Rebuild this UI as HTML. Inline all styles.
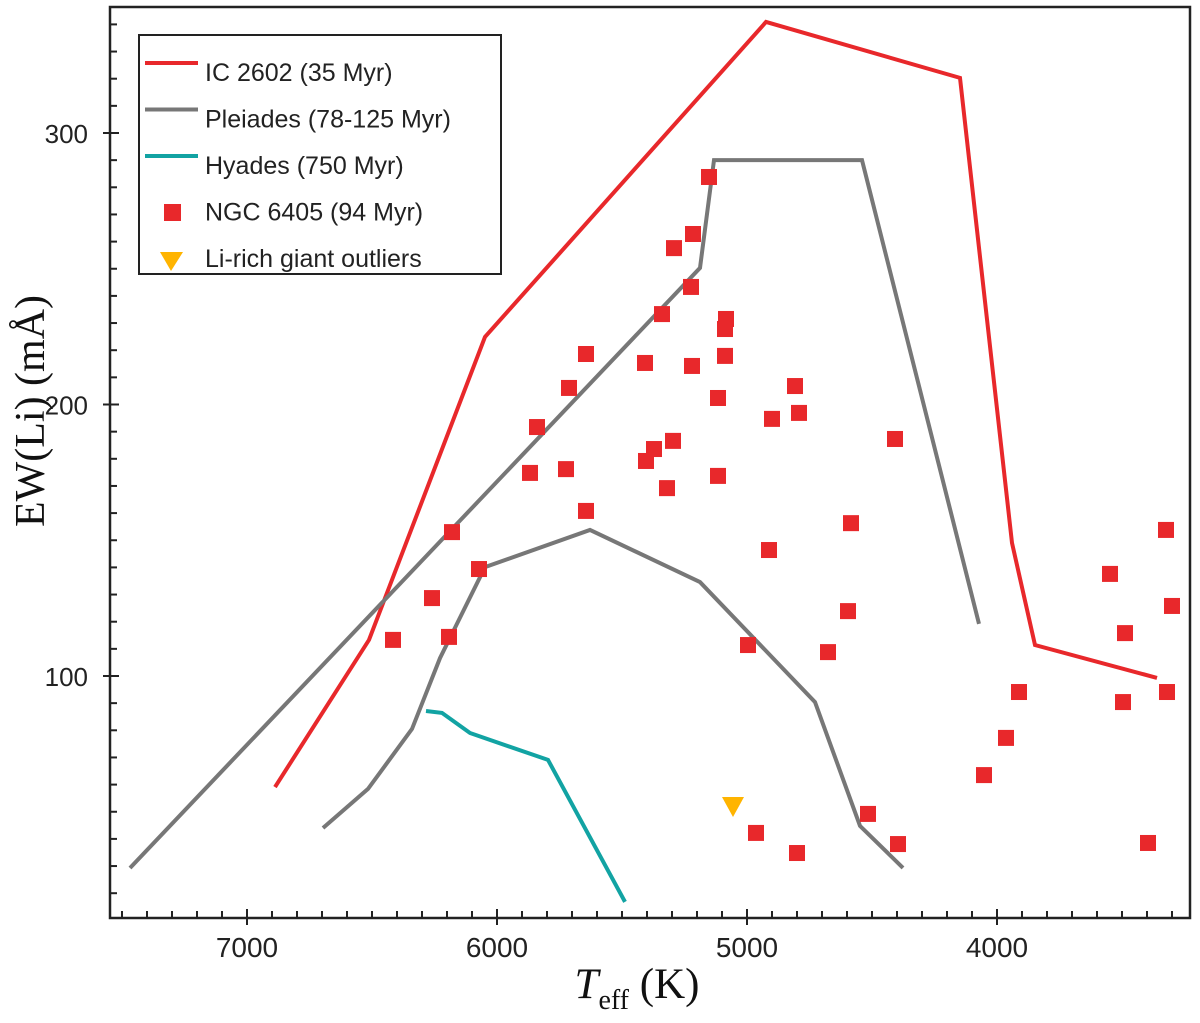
<!DOCTYPE html>
<html><head><meta charset="utf-8"><style>
body{margin:0;background:#fff}
svg text{font-family:"Liberation Sans",sans-serif}
</style></head><body>
<svg id="c" width="1200" height="1018" xmlns="http://www.w3.org/2000/svg"></svg>
<script>
const xTicks=[7000,6000,5000,4000];
const yTicks=[100,200,300];
const icT=[6888,6512,6048,4924,4148,3940,3848,3360];
const icV=[59.1,113.3,224.9,340.9,320.3,149,111.4,99.3];
const plUT=[7468,5188,5132,4540,4072];
const plUV=[29.3,250.3,290,290,119.2];
const plLT=[6696,6516,6340,6228,6048,5628,5188,4728,4548,4376];
const plLV=[44,58.4,80.5,106.6,140.1,153.8,134.6,90.4,44.8,29.3];
const hyT=[6284,6220,6108,5796,5488];
const hyV=[87.1,86.4,79,69.1,16.8];
const ngcT=[5152,5292,5216,5224,5340,5088,5084,5088,5644,5408,5220,5712,5116,4808,5840,4900,4792,4408,5296,5372,5404,5724,5868,5116,5320,5644,6180,4584,4912,6072,3324,3548,6260,6192,6416,4596,3300,3488,4996,4676,3320,3912,3496,3964,4052,4516,4964,4396,4800,3396];
const ngcV=[283.8,257.6,262.8,243.3,233.3,227.8,231.5,217.9,218.6,215.3,214.2,206.1,202.4,206.8,191.7,194.7,196.9,187.3,186.6,183.6,179.2,176.2,174.8,173.7,169.2,160.8,153,156.3,146.4,139.4,153.8,137.6,128.7,114.4,113.3,123.9,125.8,115.8,111.4,108.8,94.1,94.1,90.4,77.2,63.5,49.2,42.2,38.1,34.8,38.5];
const giantT=[5056];
const giantV=[52.1];

const NS="http://www.w3.org/2000/svg";
const svg=document.getElementById('c');
const X=t=>247+(7000-t)*0.25;
const Y=v=>676-(v-100)*2.715;
function mk(tag,attrs,parent){const e=document.createElementNS(NS,tag);for(const k in attrs)e.setAttribute(k,attrs[k]);(parent||svg).appendChild(e);return e;}
const L=110,R=1190,T=7,B=918;
const frame=mk('rect',{x:L,y:T,width:R-L,height:B-T,fill:'none',stroke:'#222','stroke-width':2.5});


for(let t=7500;t>=3300;t-=100){const x=X(t);if(x<=L||x>=R)continue;const maj=t%1000===0;
 const tk=mk('line',{x1:x,x2:x,y1:B-(maj?9:7),y2:B+(maj?7:0),stroke:'#222','stroke-width':2});
 
 }
xTicks.forEach(t=>{const e=mk('text',{x:X(t),y:957,'text-anchor':'middle','font-size':28,fill:'#222'});e.textContent=t;
 
 });
for(let v=20;v<=340;v+=10){const y=Y(v);if(y<T||y>B)continue;const maj=v%100===0;
 const tk=mk('line',{x1:L-(maj?7:0),x2:L+(maj?9:7),y1:y,y2:y,stroke:'#222','stroke-width':2});
 
 }
yTicks.forEach(v=>{const e=mk('text',{x:88,y:Y(v)+10,'text-anchor':'end','font-size':26,fill:'#222'});e.textContent=v;
 
 });
const yt=mk('text',{x:0,y:0,transform:'translate(44,411) rotate(-90)','text-anchor':'middle','font-size':42,fill:'#111','style':'font-family:"Liberation Serif",serif'});
yt.textContent='EW(Li) (mÅ)';


const xt=mk('text',{x:637,y:998,'text-anchor':'middle','font-size':43,fill:'#111','style':'font-family:"Liberation Serif",serif'});
xt.innerHTML='<tspan font-style="italic">T</tspan><tspan font-size="28" dy="11">eff</tspan><tspan dy="-11"> (K)</tspan>';


function line(ts,vs,color,name){const p=mk('polyline',{points:ts.map((t,i)=>X(t)+','+Y(vs[i])).join(' '),fill:'none',stroke:color,'stroke-width':4,'stroke-linejoin':'miter'});
 
 }
line(icT,icV,'#e8282b','ic2602-line');
line(plUT,plUV,'#777','pleiades-upper-line');
line(plLT,plLV,'#777','pleiades-lower-line');
line(hyT,hyV,'#12a3a3','hyades-line');
ngcT.forEach((t,i)=>{const r=mk('rect',{x:X(t)-8,y:Y(ngcV[i])-8,width:16,height:16,fill:'#e8282b'});
 
 });
giantT.forEach((t,i)=>{const x=X(t),y=Y(giantV[i]);const p=mk('polygon',{points:`${x-11},${y-9} ${x+11},${y-9} ${x},${y+11}`,fill:'#ffb400'});
 
 });
const lg=mk('g',{});


mk('rect',{x:139,y:35,width:362,height:239,fill:'#fff',stroke:'#222','stroke-width':2},lg);
const items=[['IC 2602 (35 Myr)','line','#e8282b'],['Pleiades (78-125 Myr)','line','#777'],['Hyades (750 Myr)','line','#12a3a3'],['NGC 6405 (94 Myr)','sq','#e8282b'],['Li-rich giant outliers','tri','#ffb400']];
items.forEach((it,i)=>{const g=mk('g',{},lg);
 
 
 const cy=63+i*46.5;
 if(it[1]==='line')mk('line',{x1:145,x2:198,y1:cy,y2:cy,stroke:it[2],'stroke-width':4},g);
 else if(it[1]==='sq')mk('rect',{x:164,y:cy+1.5,width:17,height:17,fill:it[2]},g);
 else mk('polygon',{points:`160,${cy+3} 183,${cy+3} 171,${cy+22}`,fill:it[2]},g);
 const tx=mk('text',{x:205,y:cy+18,'font-size':25,fill:'#222'},g);tx.textContent=it[0];});
</script>
</body></html>
